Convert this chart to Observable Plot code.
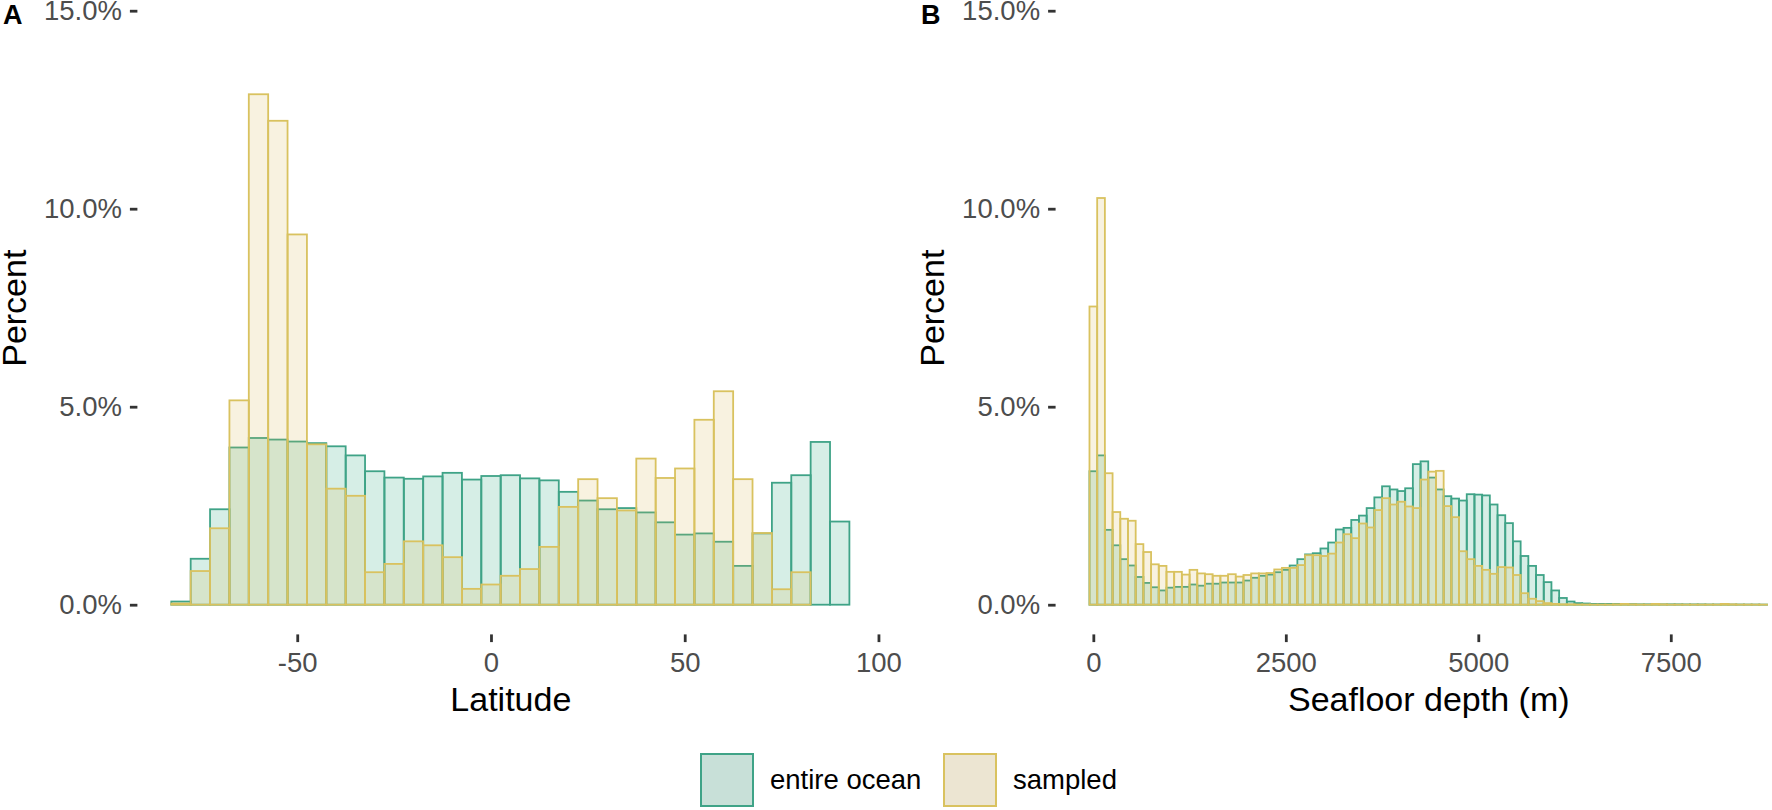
<!DOCTYPE html>
<html>
<head>
<meta charset="utf-8">
<script src="https://cdn.jsdelivr.net/npm/d3@7"></script>
<script src="https://cdn.jsdelivr.net/npm/@observablehq/plot@0.6"></script>
<style>
  html, body { margin: 0; padding: 0; background: #ffffff; }
  #wrap { position: relative; width: 1772px; height: 810px; overflow: hidden; font-family: "Liberation Sans", Arial, sans-serif; background: #fff; }
  .panel { position: absolute; top: -19.4px; }
  .panel svg { max-width: none !important; display: block; }
  #pa { left: 0px; }
  #pb { left: 900px; }
  .tag { position: absolute; top: 2px; font-size: 27px; font-weight: bold; line-height: 27px; color: #000; }
  .key { position: absolute; top: 753px; width: 50px; height: 50px; border: 2px solid; }
  .ltxt { position: absolute; top: 753px; height: 54px; line-height: 54px; font-size: 27.5px; color: #000; white-space: nowrap; }
</style>
</head>
<body>
<div id="wrap">
  <div class="panel" id="pa"></div>
  <div class="panel" id="pb"></div>
  <div class="tag" style="left:3px">A</div>
  <div class="tag" style="left:921px">B</div>
  <div id="legend"></div>
</div>
<script>
// ---------- data ----------
const seriesNames = ["entire ocean", "sampled"];

const latBins = [-80, -75, -70, -65, -60, -55, -50, -45, -40, -35, -30, -25, -20, -15, -10, -5,
  0, 5, 10, 15, 20, 25, 30, 35, 40, 45, 50, 55, 60, 65, 70, 75, 80, 85, 90];
const latBinWidth = 5;
const latOcean = [0.08, 1.16, 2.41, 3.97, 4.21, 4.17, 4.12, 4.08, 4.00, 3.77, 3.37, 3.21, 3.18, 3.24, 3.33, 3.16,
  3.25, 3.27, 3.19, 3.14, 2.85, 2.63, 2.41, 2.44, 2.33, 2.08, 1.77, 1.80, 1.59, 0.98, 1.80, 3.08, 3.27, 4.11, 2.10];
const latSampled = [0.03, 0.85, 1.93, 5.16, 12.89, 12.22, 9.35, 4.05, 2.93, 2.75, 0.82, 1.03, 1.60, 1.50, 1.20, 0.40,
  0.51, 0.73, 0.90, 1.46, 2.47, 3.17, 2.69, 2.38, 3.69, 3.20, 3.44, 4.67, 5.39, 3.17, 1.81, 0.39, 0.82, 0, 0];

const depthBins = [0, 100, 200, 300, 400, 500, 600, 700, 800, 900,
  1000, 1100, 1200, 1300, 1400, 1500, 1600, 1700, 1800, 1900,
  2000, 2100, 2200, 2300, 2400, 2500, 2600, 2700, 2800, 2900,
  3000, 3100, 3200, 3300, 3400, 3500, 3600, 3700, 3800, 3900,
  4000, 4100, 4200, 4300, 4400, 4500, 4600, 4700, 4800, 4900,
  5000, 5100, 5200, 5300, 5400, 5500, 5600, 5700, 5800, 5900,
  6000, 6100, 6200, 6300, 6400, 6500, 6600, 6700, 6800, 6900,
  7000, 7100, 7200, 7300, 7400, 7500, 7600, 7700, 7800, 7900,
  8000, 8100, 8200, 8300, 8400, 8500, 8600, 8700];
const depthBinWidth = 100;
const depthOcean = [3.37, 3.77, 1.89, 1.50, 1.15, 0.99, 0.70, 0.55, 0.44, 0.36,
  0.43, 0.45, 0.45, 0.51, 0.48, 0.53, 0.53, 0.56, 0.56, 0.56,
  0.61, 0.68, 0.73, 0.76, 0.82, 0.88, 0.99, 1.15, 1.27, 1.30,
  1.42, 1.57, 1.90, 1.94, 2.14, 2.25, 2.44, 2.71, 2.99, 2.91,
  2.87, 2.94, 3.55, 3.62, 3.21, 2.91, 2.74, 2.68, 2.63, 2.79,
  2.78, 2.76, 2.53, 2.26, 2.06, 1.60, 1.23, 0.98, 0.75, 0.57,
  0.36, 0.17, 0.08, 0.04, 0.03, 0.02, 0.02, 0.02, 0.02, 0.015,
  0.015, 0.01, 0.01, 0.01, 0.01, 0.01, 0.01, 0.008, 0.008, 0.008,
  0.006, 0.006, 0.005, 0.005, 0.005, 0.004, 0.004, 0.003];
const depthSampled = [7.53, 10.27, 3.32, 2.34, 2.17, 2.12, 1.53, 1.33, 1.02, 0.98,
  0.83, 0.83, 0.76, 0.88, 0.79, 0.77, 0.73, 0.73, 0.77, 0.71,
  0.75, 0.79, 0.79, 0.80, 0.89, 0.93, 0.93, 1.00, 1.25, 1.25,
  1.23, 1.29, 1.57, 1.78, 1.68, 2.05, 1.95, 2.39, 2.69, 2.53,
  2.60, 2.48, 2.44, 3.16, 3.36, 3.38, 2.49, 2.21, 1.35, 1.15,
  0.98, 0.88, 0.78, 0.95, 0.94, 0.75, 0.29, 0.15, 0.09, 0.04,
  0.02, 0.01, 0.01, 0.005, 0.005, 0.003, 0.003, 0.003, 0.01, 0.02,
  0.01, 0.005, 0.003, 0.02, 0.01, 0.003, 0.003, 0.003, 0.003, 0.003,
  0.003, 0.003, 0.02, 0.01, 0.003, 0.003, 0.003, 0.002];

const percentTicks = [0, 5, 10, 15];
const latTicks = [-50, 0, 50, 100];
const depthTicks = [0, 2500, 5000, 7500];

// ---------- styles ----------
const col = {
  ocean: {fill: "#1b9e77", stroke: "#3fa387", key: "#c8e0d8"},
  sampled: {fill: "#d8b753", stroke: "#d9c25f", key: "#ece5d2"}
};
const FONT = "Liberation Sans, Arial, sans-serif";

function rows(bins, vals, w) {
  return bins.map((c, i) => ({x1: c - w / 2, x2: c + w / 2, v: vals[i]}));
}

function panel({bins, ocean, sampled, w, xDomain, ticks, xLabel, width, marginLeft, marginRight}) {
  const H = 760, frameBottom = 653.4;
  return Plot.plot({
    width, height: H,
    marginLeft, marginRight, marginTop: 0, marginBottom: H - frameBottom,
    x: {domain: xDomain},
    y: {domain: [-0.75, 15.75]},
    style: {fontFamily: FONT, background: "transparent", overflow: "visible"},
    marks: [
      Plot.rect(rows(bins, ocean, w), {x1: "x1", x2: "x2", y1: 0, y2: "v",
        fill: col.ocean.fill, fillOpacity: 0.18, stroke: col.ocean.stroke, strokeWidth: 1.8}),
      Plot.rect(rows(bins, sampled, w), {x1: "x1", x2: "x2", y1: 0, y2: "v",
        fill: col.sampled.fill, fillOpacity: 0.18, stroke: col.sampled.stroke, strokeWidth: 1.8}),
      Plot.axisY({ticks: percentTicks, tickFormat: d => d.toFixed(1) + "%", tickSize: 7.5, tickPadding: 8.5,
        stroke: "#333333", strokeWidth: 2.8, fill: "#4d4d4d", fontSize: 27.5, label: null}),
      Plot.axisX({ticks, tickFormat: d => String(d), tickSize: 7.7, tickPadding: 10,
        stroke: "#333333", strokeWidth: 2.8, fill: "#4d4d4d", fontSize: 27.5, label: null}),
      Plot.text([xLabel], {text: d => d, frameAnchor: "bottom", dy: 76, lineAnchor: "bottom",
        fontSize: 34, fill: "#000"}),
      Plot.text(["Percent"], {text: d => d, frameAnchor: "left", rotate: -90, dx: -122.8,
        lineAnchor: "middle", textAnchor: "middle", fontSize: 34, fill: "#000"})
    ]
  });
}

document.getElementById("pa").appendChild(panel({
  bins: latBins, ocean: latOcean, sampled: latSampled, w: latBinWidth,
  xDomain: [-91.25, 101.25], ticks: latTicks, xLabel: "Latitude",
  width: 920, marginLeft: 137.4, marginRight: 36.7
}));

document.getElementById("pb").appendChild(panel({
  bins: depthBins, ocean: depthOcean, sampled: depthSampled, w: depthBinWidth,
  xDomain: [-490, 9190], ticks: depthTicks, xLabel: "Seafloor depth (m)",
  width: 910, marginLeft: 155.6, marginRight: 9.1
}));

// ---------- legend ----------
const legend = document.getElementById("legend");
const keyLefts = [700, 943];
const txtLefts = [770, 1013];
const keyCols = [col.ocean, col.sampled];
seriesNames.forEach((name, i) => {
  const k = document.createElement("div");
  k.className = "key";
  k.style.left = keyLefts[i] + "px";
  k.style.background = keyCols[i].key;
  k.style.borderColor = keyCols[i].stroke;
  legend.appendChild(k);
  const t = document.createElement("div");
  t.className = "ltxt";
  t.style.left = txtLefts[i] + "px";
  t.textContent = name;
  legend.appendChild(t);
});
</script>
</body>
</html>
